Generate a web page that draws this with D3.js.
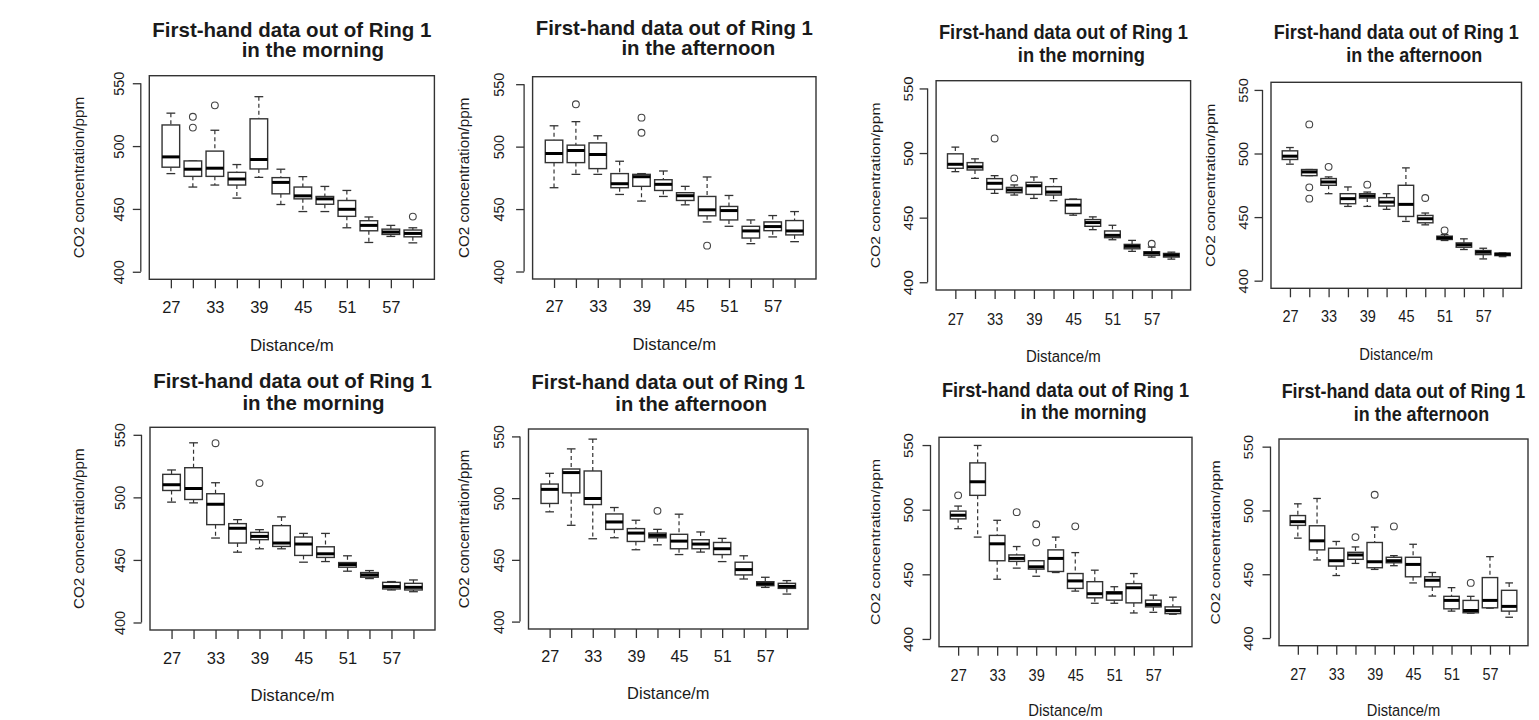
<!DOCTYPE html>
<html>
<head>
<meta charset="utf-8">
<script src="https://cdn.jsdelivr.net/npm/d3@7"></script>
<style>
  body { margin: 0; background: #fff; }
  svg text { font-family: "Liberation Sans", Arial, sans-serif; fill: #1a1a1a; }
</style>
</head>
<body>
<svg id="chart" width="1539" height="720"></svg>
<script>
// distances along the transect (one box per distance)
var distances = [27, 30, 33, 36, 39, 42, 45, 48, 51, 54, 57, 60];
var yTicks = [400, 450, 500, 550];
var yLimits = [394, 556];

// each box: [lower whisker, Q1, median, Q3, upper whisker]
var morningA = [
  [478.1, 483.2, 491.4, 516.8, 526.2], [467.4, 475.9, 481.6, 488.2, 488.2],
  [469.0, 475.9, 482.4, 496.0, 512.6], [458.6, 469.0, 473.8, 479.1, 485.3],
  [475.1, 481.8, 489.3, 521.7, 539.3], [453.5, 462.0, 471.1, 474.9, 481.6],
  [447.9, 458.0, 460.4, 467.4, 475.7], [447.9, 453.7, 458.0, 459.9, 467.9],
  [435.0, 444.1, 449.7, 456.7, 464.7], [423.3, 432.6, 436.9, 440.6, 443.6],
  [428.1, 429.7, 431.6, 433.9, 436.9], [423.0, 427.8, 430.5, 433.2, 435.0]
];
var morningAOut = [[], [523.3, 514.7], [532.4], [], [], [], [], [], [], [], [], [443.9]];

var afternoonA = [
  [467.1, 487.2, 494.5, 505.2, 516.7], [477.8, 487.2, 496.9, 501.2, 520.0],
  [477.8, 482.4, 493.7, 503.0, 508.7], [461.7, 467.1, 470.3, 478.4, 488.3],
  [456.4, 468.2, 475.9, 477.8, 478.4], [460.1, 464.9, 469.8, 473.5, 480.5],
  [453.4, 456.9, 460.7, 463.1, 468.2], [439.7, 444.6, 449.4, 460.1, 475.7],
  [436.2, 441.3, 448.8, 452.1, 460.9], [422.3, 426.8, 432.5, 436.2, 441.3],
  [427.7, 432.7, 436.0, 439.7, 444.8], [423.9, 429.3, 432.5, 440.8, 448.0]
];
var afternoonAOut = [[], [533.9], [], [], [523.2, 511.1], [], [], [420.7], [], [], [], []];

var morningB = [
  [485.6, 488.2, 491.3, 499.4, 504.6], [480.4, 486.9, 489.3, 492.6, 495.5],
  [468.8, 471.9, 476.6, 480.2, 482.5], [467.5, 469.3, 471.4, 473.4, 475.3],
  [464.9, 468.0, 474.7, 477.3, 481.5], [463.1, 467.5, 469.8, 474.0, 480.2],
  [451.9, 453.2, 459.7, 464.1, 464.4], [440.7, 443.3, 446.2, 448.5, 450.6],
  [432.9, 434.5, 436.3, 439.7, 444.1], [423.9, 425.9, 427.8, 429.3, 432.4],
  [419.5, 420.8, 422.6, 423.6, 427.2], [417.9, 419.5, 421.0, 422.3, 423.3]
];
var morningBOut = [[], [], [511.3], [480.4], [], [], [], [], [], [], [429.8], []];

var afternoonB = [
  [491.6, 495.3, 497.9, 502.1, 504.7], [482.6, 482.6, 485.5, 487.4, 487.4],
  [468.4, 475.0, 477.6, 480.3, 481.6], [458.4, 460.5, 464.5, 468.4, 473.7],
  [458.4, 465.0, 466.6, 468.4, 469.7], [456.1, 458.7, 461.8, 465.3, 468.4],
  [446.6, 450.5, 460.0, 475.0, 488.7], [443.9, 445.5, 448.7, 451.3, 453.2],
  [431.6, 432.4, 433.7, 435.0, 436.3], [424.5, 426.3, 428.2, 429.7, 432.9],
  [417.1, 420.5, 422.4, 423.7, 425.5], [418.9, 419.7, 420.8, 421.6, 421.8]
];
var afternoonBOut = [[], [522.9, 473.4, 464.5], [489.5], [], [475.5], [], [], [465.0], [439.5], [], [], []];

var morningC = [
  [496.2, 505.5, 510.1, 518.4, 521.9], [495.6, 498.3, 507.1, 523.7, 543.6],
  [467.5, 478.2, 494.5, 502.9, 511.7], [456.2, 463.5, 475.3, 479.0, 482.2],
  [458.9, 466.2, 468.8, 472.0, 474.2], [458.9, 460.8, 463.5, 477.4, 484.4],
  [448.2, 453.6, 462.7, 468.3, 471.2], [448.7, 452.0, 454.9, 460.5, 471.2],
  [441.0, 444.2, 446.3, 447.9, 453.3], [435.1, 436.2, 438.0, 439.9, 441.5],
  [426.0, 426.8, 428.7, 432.1, 432.7], [424.6, 426.0, 428.1, 431.3, 434.0]
];
var morningCOut = [[], [], [543.3], [], [511.4], [], [], [], [], [], [], []];

var afternoonC = [
  [488.9, 495.7, 507.1, 511.4, 520.1], [478.0, 504.3, 520.7, 523.6, 539.9],
  [467.1, 494.8, 499.7, 522.0, 547.8], [467.9, 474.7, 480.7, 487.2, 492.4],
  [458.2, 464.9, 471.7, 475.3, 482.1], [462.2, 467.9, 469.8, 471.7, 474.7],
  [454.3, 459.0, 465.2, 470.7, 487.0], [456.3, 459.0, 462.8, 466.3, 472.6],
  [448.6, 454.3, 459.0, 464.1, 467.4], [434.5, 437.8, 442.1, 448.1, 453.3],
  [427.7, 429.1, 430.7, 432.3, 435.9], [422.3, 426.9, 428.5, 431.0, 433.2]
];
var afternoonCOut = [[], [], [], [], [], [489.7], [], [], [], [], [], []];

var morningD = [
  [485.3, 492.9, 495.7, 498.9, 502.8], [478.8, 511.1, 521.6, 536.2, 549.7],
  [446.2, 460.5, 473.6, 480.1, 491.8], [454.8, 460.0, 462.3, 465.0, 471.5],
  [448.5, 454.0, 455.8, 460.5, 460.5], [451.4, 452.2, 462.3, 468.9, 478.8],
  [437.0, 439.1, 444.9, 450.6, 466.8], [427.6, 431.8, 435.0, 444.3, 453.2],
  [427.6, 430.0, 435.5, 436.5, 440.4], [420.1, 427.9, 439.6, 442.8, 450.6],
  [420.6, 424.8, 426.6, 430.0, 433.9], [419.1, 419.6, 421.9, 424.8, 432.3]
];
var morningDOut = [[511.1], [], [], [498.1], [488.7, 474.6], [], [487.1], [], [], [], [], []];

var afternoonD = [
  [478.3, 488.3, 491.2, 496.0, 505.2], [461.2, 469.1, 476.2, 488.0, 509.4],
  [449.0, 456.4, 460.6, 470.4, 475.7], [458.5, 461.7, 465.1, 467.2, 471.4],
  [453.8, 455.1, 459.8, 474.9, 487.0], [456.7, 459.0, 460.6, 463.3, 464.6],
  [443.2, 448.0, 457.7, 463.3, 473.5], [432.9, 440.1, 445.3, 448.0, 451.4],
  [421.1, 422.9, 429.5, 432.7, 439.5], [419.5, 419.8, 421.6, 429.5, 432.7],
  [423.4, 423.7, 429.5, 447.4, 463.8], [416.3, 421.1, 424.8, 437.4, 443.2]
];
var afternoonDOut = [[], [], [], [479.1], [512.3], [487.5], [], [], [], [443.2], [], []];

// the four screenshots were pasted at slightly different sizes,
// so every panel keeps its own frame and text stretch
var panels = [
  { sub: "in the morning",   stats: morningA,   out: morningAOut,   l: 149.3, r: 434.4,  t: 75.7,  b: 279.3, yt: -71,   yl: -31, t1: 37,  t2: 57,  t2dx: 21, xt: 72, kx: 1,     ky: 1 },
  { sub: "in the afternoon", stats: afternoonA, out: afternoonAOut, l: 532.6, r: 816,    t: 76.7,  b: 279,   yt: -68.6, yl: -34, t1: 35,  t2: 55,  t2dx: 24, xt: 71, kx: 0.994, ky: 0.994 },
  { sub: "in the morning",   stats: morningB,   out: morningBOut,   l: 936.1, r: 1190.6, t: 80.7,  b: 290,   yt: -61,   yl: -28, t1: 39,  t2: 62,  t2dx: 18, xt: 72, kx: 0.893, ky: 1.028 },
  { sub: "in the afternoon", stats: afternoonB, out: afternoonBOut, l: 1271,  r: 1521.5, t: 82.3,  b: 288.3, yt: -61,   yl: -28, t1: 39,  t2: 62,  t2dx: 18, xt: 72, kx: 0.879, ky: 1.012 },
  { sub: "in the morning",   stats: morningC,   out: morningCOut,   l: 150,   r: 435,    t: 427.3, b: 630,   yt: -71.7, yl: -30, t1: 388, t2: 410, t2dx: 21, xt: 71, kx: 1,     ky: 0.996 },
  { sub: "in the afternoon", stats: afternoonC, out: afternoonCOut, l: 528.5, r: 808,    t: 429,   b: 629,   yt: -65,   yl: -30, t1: 389, t2: 411, t2dx: 23, xt: 70, kx: 0.98,  ky: 0.982 },
  { sub: "in the morning",   stats: morningD,   out: morningDOut,   l: 939,   r: 1192,   t: 437.3, b: 646.7, yt: -64,   yl: -30.7, t1: 397, t2: 419, t2dx: 18, xt: 69.5, kx: 0.886, ky: 1.029 },
  { sub: "in the afternoon", stats: afternoonD, out: afternoonDOut, l: 1279,  r: 1528,   t: 439,   b: 645.7, yt: -64,   yl: -30.7, t1: 398, t2: 421, t2dx: 18, xt: 70.5, kx: 0.874, ky: 1.017 }
];

var svg = d3.select("#chart");
var ink = "#333";

function stretch(p, x, y, extra) {
  return "translate(" + x + "," + y + ") scale(" + p.kx + "," + p.ky + ")" + (extra || "");
}

function drawPanel(p) {
  var g = svg.append("g");

  // R style: x domain 0.5..12.5 widened by 4%
  var x = d3.scaleLinear().domain([0.02, 12.98]).range([p.l, p.r]);
  var y = d3.scaleLinear().domain(yLimits).range([p.b, p.t]);
  var half = x(1.4) - x(1);
  var staple = x(1.2) - x(1);

  // boxes
  var box = g.selectAll(".box").data(p.stats).enter()
    .append("g").attr("class", "box");

  box.append("line")
    .attr("x1", function(d, i) { return x(i + 1); })
    .attr("x2", function(d, i) { return x(i + 1); })
    .attr("y1", function(d) { return y(d[4]); })
    .attr("y2", function(d) { return y(d[3]); })
    .attr("stroke", ink).attr("stroke-width", 1.2).attr("stroke-dasharray", "4,3");
  box.append("line")
    .attr("x1", function(d, i) { return x(i + 1); })
    .attr("x2", function(d, i) { return x(i + 1); })
    .attr("y1", function(d) { return y(d[1]); })
    .attr("y2", function(d) { return y(d[0]); })
    .attr("stroke", ink).attr("stroke-width", 1.2).attr("stroke-dasharray", "4,3");
  [0, 4].forEach(function(k) {
    box.append("line")
      .attr("x1", function(d, i) { return x(i + 1) - staple; })
      .attr("x2", function(d, i) { return x(i + 1) + staple; })
      .attr("y1", function(d) { return y(d[k]); })
      .attr("y2", function(d) { return y(d[k]); })
      .attr("stroke", ink).attr("stroke-width", 1.3);
  });
  box.append("rect")
    .attr("x", function(d, i) { return x(i + 1) - half; })
    .attr("width", 2 * half)
    .attr("y", function(d) { return y(d[3]); })
    .attr("height", function(d) { return Math.max(0.5, y(d[1]) - y(d[3])); })
    .attr("fill", "#fff").attr("stroke", ink).attr("stroke-width", 1.4);
  box.append("line")
    .attr("x1", function(d, i) { return x(i + 1) - half; })
    .attr("x2", function(d, i) { return x(i + 1) + half; })
    .attr("y1", function(d) { return y(d[2]); })
    .attr("y2", function(d) { return y(d[2]); })
    .attr("stroke", "#000").attr("stroke-width", 3);

  // outliers
  p.out.forEach(function(vals, i) {
    g.selectAll(null).data(vals).enter().append("circle")
      .attr("cx", x(i + 1))
      .attr("cy", function(v) { return y(v); })
      .attr("r", 3.4)
      .attr("fill", "none").attr("stroke", "#444").attr("stroke-width", 1.1);
  });

  // frame
  g.append("rect")
    .attr("x", p.l).attr("y", p.t)
    .attr("width", p.r - p.l).attr("height", p.b - p.t)
    .attr("fill", "none").attr("stroke", ink).attr("stroke-width", 1.4);

  // x axis: every tick, every other label (like R drops overlapping ones)
  var xAxis = d3.axisBottom(x)
    .tickValues(d3.range(1, distances.length + 1))
    .tickSize(9).tickSizeOuter(0).tickPadding(13)
    .tickFormat(function(i) { return (i - 1) % 2 === 0 ? distances[i - 1] : ""; });
  var xg = g.append("g").attr("transform", "translate(0," + p.b + ")").call(xAxis);
  xg.select(".domain").remove();
  xg.selectAll("line").attr("stroke", ink).attr("stroke-width", 1.3);
  xg.selectAll("text")
    .attr("font-size", 16.5).attr("font-family", null).attr("fill", "#1a1a1a")
    .attr("transform", "scale(" + p.kx + "," + p.ky + ")");

  // y axis sits a little left of the frame
  var ax = p.l - 8.5;
  var yAxis = d3.axisLeft(y).tickValues(yTicks).tickSize(8).tickSizeOuter(0);
  var yg = g.append("g").attr("transform", "translate(" + ax + ",0)").call(yAxis);
  yg.select(".domain").remove();
  yg.append("line")
    .attr("y1", y(yTicks[0])).attr("y2", y(yTicks[yTicks.length - 1]))
    .attr("stroke", ink).attr("stroke-width", 1.3);
  yg.selectAll(".tick line").attr("stroke", ink).attr("stroke-width", 1.3);
  var labelOff = p.yl + 8.5;
  yg.selectAll(".tick text")
    .attr("x", 0).attr("dy", null)
    .attr("font-size", 14.5).attr("font-family", null).attr("fill", "#1a1a1a")
    .attr("text-anchor", "middle")
    .attr("transform", "translate(" + (labelOff + 5.2 * p.kx) + ",0) scale(" + p.kx + "," + p.ky + ") rotate(-90)");

  // axis titles
  g.append("text")
    .attr("transform", stretch(p, (p.l + p.r) / 2, p.b + p.xt))
    .attr("text-anchor", "middle").attr("font-size", 16.8)
    .text("Distance/m");
  g.append("text")
    .attr("transform", stretch(p, p.l + p.yt + 5.5 * p.kx, (p.t + p.b) / 2, " rotate(-90)"))
    .attr("text-anchor", "middle").attr("font-size", 15.3)
    .text("CO2 concentration/ppm");

  // two-line bold title
  g.append("text")
    .attr("transform", stretch(p, (p.l + p.r) / 2, p.t1))
    .attr("text-anchor", "middle").attr("font-size", 20.5).attr("font-weight", "bold")
    .text("First-hand data out of Ring 1");
  g.append("text")
    .attr("transform", stretch(p, (p.l + p.r) / 2 + p.t2dx, p.t2))
    .attr("text-anchor", "middle").attr("font-size", 20.5).attr("font-weight", "bold")
    .text(p.sub);
}

panels.forEach(drawPanel);
</script>
</body>
</html>
